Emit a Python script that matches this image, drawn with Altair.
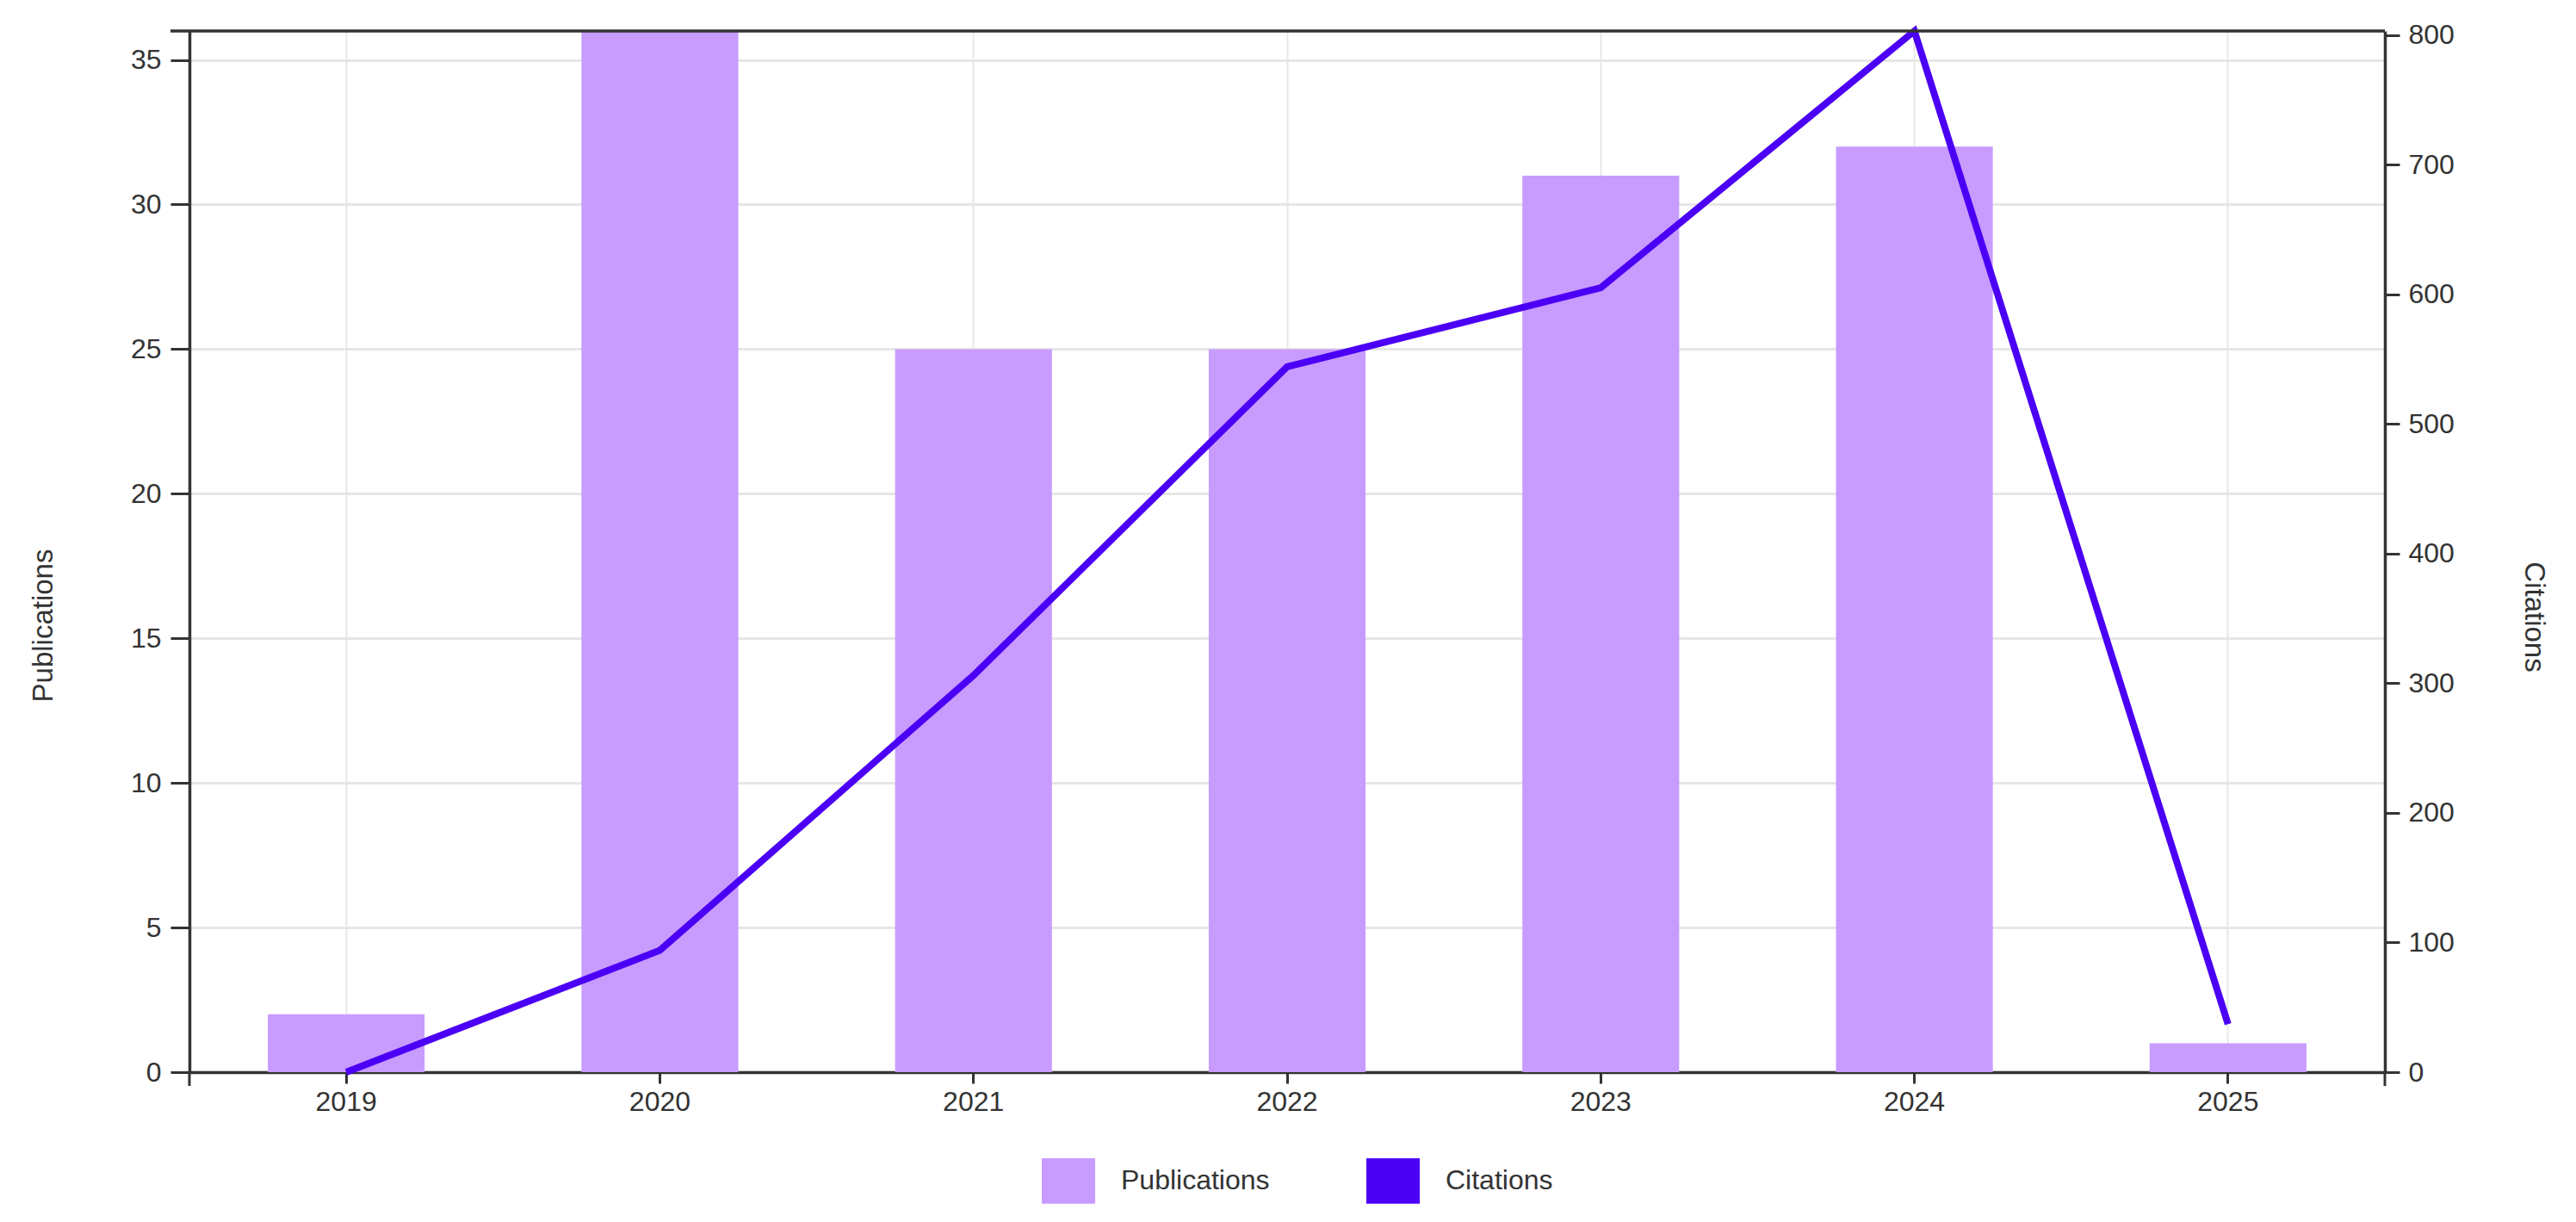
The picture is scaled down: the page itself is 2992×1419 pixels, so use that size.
import altair as alt
import pandas as pd

years = ["2019", "2020", "2021", "2022", "2023", "2024", "2025"]
publications = [2, 36, 25, 25, 31, 32, 1]
citations = [0, 94, 306, 544, 605, 803, 37]
series_names = ["Publications", "Citations"]
series_colors = ["#c89bff", "#4b00f5"]
pub_ticks = [0, 5, 10, 15, 20, 25, 30, 35]
cit_ticks = [0, 100, 200, 300, 400, 500, 600, 700, 800]

df = pd.DataFrame({"year": years, "Publications": publications, "Citations": citations})
one = pd.DataFrame({"k": [0]})

W, H = 2550, 1209
FONT = "Liberation Sans"
DARK = "#333333"

x_scale = alt.Scale(paddingInner=0.5, paddingOuter=0.25)
color_scale = alt.Scale(domain=series_names, range=series_colors)

legend = alt.Legend(
    orient="none", legendX=990, legendY=1304, direction="horizontal", title=None,
    symbolType="M-1,-0.85H1V0.85H-1Z", symbolSize=3844, symbolStrokeWidth=0,
    labelFontSize=32, labelFont=FONT, labelColor=DARK, labelOffset=30, labelLimit=500,
    columnPadding=112, padding=0,
)

x_axis = alt.Axis(
    title=None, labelAngle=0, labelFontSize=32, labelPadding=6, tickSize=13, tickWidth=3,
    tickColor=DARK, domainColor=DARK, domainWidth=3.5, grid=True, gridColor="#e8e8e8",
    gridWidth=2, bandPosition=0.5,
)

left_axis = alt.Axis(
    title="Publications", orient="left", values=pub_ticks, labelFontSize=32, labelPadding=11,
    tickSize=22, tickWidth=3, tickColor=DARK, domainColor=DARK, domainWidth=3.5,
    grid=True, gridColor="#e6e6e6", gridWidth=3, titleFontSize=33, titleX=-170, titleY=690,
    titleAngle=270, titleAlign="center", titleBaseline="middle",
)

right_axis = alt.Axis(
    title="Citations", orient="right", values=cit_ticks, labelFontSize=32, labelPadding=10,
    tickSize=17, tickWidth=3, tickColor=DARK, domainColor=DARK, domainWidth=3.5,
    grid=False, titleFontSize=33, titleX=172, titleY=680,
    titleAngle=90, titleAlign="center", titleBaseline="middle",
)

bars = alt.Chart(df).transform_calculate(series="'Publications'").mark_bar().encode(
    x=alt.X("year:O", scale=x_scale, axis=x_axis),
    y=alt.Y("Publications:Q", scale=alt.Scale(domain=[0, 36], nice=False), axis=left_axis),
    color=alt.Color("series:N", scale=color_scale, legend=legend),
)

line = alt.Chart(df).transform_calculate(series="'Citations'").mark_line(strokeWidth=8).encode(
    x=alt.X("year:O", scale=x_scale, axis=x_axis),
    y=alt.Y("Citations:Q", scale=alt.Scale(domain=[0, 803], nice=False), axis=right_axis),
    color=alt.Color("series:N", scale=color_scale, legend=legend),
)

top_border = alt.Chart(one).mark_rule(color=DARK, strokeWidth=3.5).encode(
    x=alt.value(-22), x2=alt.value(W), y=alt.value(0)
)
cap_left = alt.Chart(one).mark_rule(color=DARK, strokeWidth=3).encode(
    x=alt.value(0), y=alt.value(H), y2=alt.value(H + 16)
)
cap_right = alt.Chart(one).mark_rule(color=DARK, strokeWidth=3).encode(
    x=alt.value(W), y=alt.value(H), y2=alt.value(H + 16)
)

chart = alt.layer(bars, line, top_border, cap_left, cap_right).resolve_scale(
    y="independent"
).properties(
    width=W, height=H, autosize="none",
    padding={"left": 212, "top": 28, "right": 210, "bottom": 160},
).configure_view(stroke=None).configure_axis(
    labelFont=FONT, titleFont=FONT, labelColor=DARK, titleColor=DARK, titleFontWeight="normal"
)

chart.save("out.html", embed_options={"renderer": "svg", "actions": False})
